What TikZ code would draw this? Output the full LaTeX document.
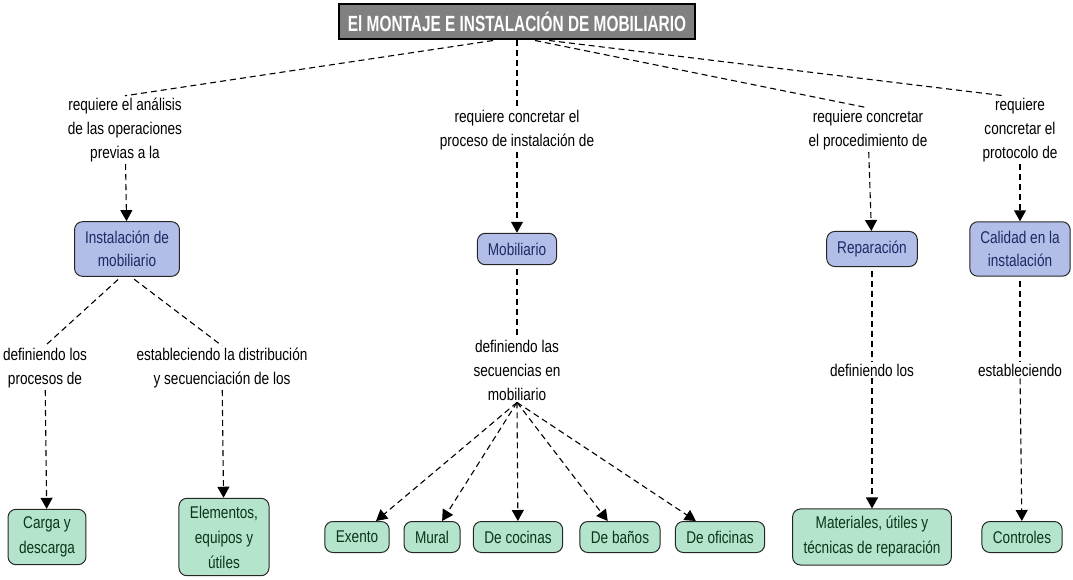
\documentclass[tikz,border=0pt]{standalone}
\usepackage{fontspec}
\setmainfont[FakeStretch=0.8]{Liberation Sans}
\newfontfamily\titlefont[FakeStretch=0.7]{Liberation Sans}
\usetikzlibrary{arrows.meta}
\definecolor{conceptblue}{RGB}{178,190,232}
\definecolor{conceptbluetext}{RGB}{28,42,100}
\definecolor{leafgreen}{RGB}{180,228,204}
\definecolor{leafgreentext}{RGB}{12,52,24}
\definecolor{titlegray}{RGB}{128,128,128}

\begin{document}
\begin{tikzpicture}[x=1pt, y=-1pt,
    link/.style={dash pattern=on 6pt off 4pt, line width=1.1pt},
    arr/.style={link, -{Triangle[width=12pt,length=11pt]}},
    phrase/.style={align=center, font=\fontsize{17}{24}\selectfont, inner sep=2pt},
    concept/.style={draw=black!85, line width=1pt, rounded corners=8pt, fill=conceptblue,
        text=conceptbluetext, align=center, font=\fontsize{17}{23}\selectfont,
        inner xsep=10.5pt, inner ysep=9.5pt, minimum height=31pt},
    leaf/.style={concept, fill=leafgreen, text=leafgreentext, font=\fontsize{17}{25}\selectfont,
        inner xsep=11pt, inner ysep=7.5pt}]
    \useasboundingbox (0,0) rectangle (1073,580);

    % title
    \node[draw=black, line width=2pt, fill=titlegray, text=white, inner xsep=9pt,
        minimum height=35pt, font=\titlefont\fontsize{22}{24}\selectfont\bfseries] (ttl) at (517,22)
        {El MONTAJE E INSTALACIÓN DE MOBILIARIO};

    % first linking phrases
    \node[phrase] (q1) at (125,130) {requiere el análisis\\de las operaciones\\previas a la};
    \node[phrase] (q2) at (517,130) {requiere concretar el\\proceso de instalación de};
    \node[phrase] (q3) at (868,130) {requiere concretar\\el procedimiento de};
    \node[phrase] (q4) at (1020,130) {requiere\\concretar el\\protocolo de};

    % main concepts
    \node[concept] (inst) at (127,249) {Instalación de\\mobiliario};
    \node[concept] (mob)  at (517,249) {Mobiliario};
    \node[concept] (rep)  at (872,249) {Reparación};
    \node[concept] (cal)  at (1020,249) {Calidad en la\\instalación};

    % second linking phrases
    \node[phrase] (d1) at (45,368) {definiendo los\\procesos de};
    \node[phrase] (d2) at (222,368) {estableciendo la distribución\\y secuenciación de los};
    \node[phrase] (d3) at (517,370) {definiendo las\\secuencias en\\mobiliario};
    \node[phrase] (d4) at (872,370) {definiendo los};
    \node[phrase] (d5) at (1020,370) {estableciendo};

    % leaves
    \node[leaf] (carga) at (47,537) {Carga y\\descarga};
    \node[leaf] (elem)  at (224,537) {Elementos,\\equipos y\\útiles};
    \node[leaf] (exen)  at (357,537) {Exento};
    \node[leaf] (mural) at (432,537) {Mural};
    \node[leaf] (coc)   at (518,537) {De cocinas};
    \node[leaf] (ban)   at (620,537) {De baños};
    \node[leaf] (ofi)   at (720,537) {De oficinas};
    \node[leaf] (mat)   at (872,537) {Materiales, útiles y\\técnicas de reparación};
    \node[leaf] (ctrl)  at (1022,537) {Controles};

    % connectors
    \draw[link] ([xshift=-24pt]ttl.south) -- (q1.north);
    \draw[link] (ttl.south) -- (q2.north);
    \draw[link] ([xshift=18pt]ttl.south) -- (q3.north);
    \draw[link] ([xshift=32pt]ttl.south) -- ([xshift=-15pt]q4.north);
    \draw[arr] (q1) -- (inst);
    \draw[arr] (q2) -- (mob);
    \draw[arr] (q3) -- (rep);
    \draw[arr] (q4) -- (cal);
    \draw[link, shorten <=4pt] ([xshift=-6pt]inst.south) -- (d1.north);
    \draw[link, shorten <=4pt] ([xshift=4pt]inst.south) -- (d2.north);
    \draw[link, shorten <=4pt] (mob) -- (d3);
    \draw[link, shorten <=4pt] (rep) -- (d4);
    \draw[link, shorten <=4pt] (cal) -- (d5);
    \draw[arr] (d1) -- (carga);
    \draw[arr] (d2) -- (elem);
    \foreach \leafname in {exen, mural, coc, ban, ofi}
        \draw[arr] (d3.south) -- (\leafname);
    \draw[arr] (d4) -- (mat);
    \draw[arr] (d5) -- (ctrl);
\end{tikzpicture}
\end{document}
